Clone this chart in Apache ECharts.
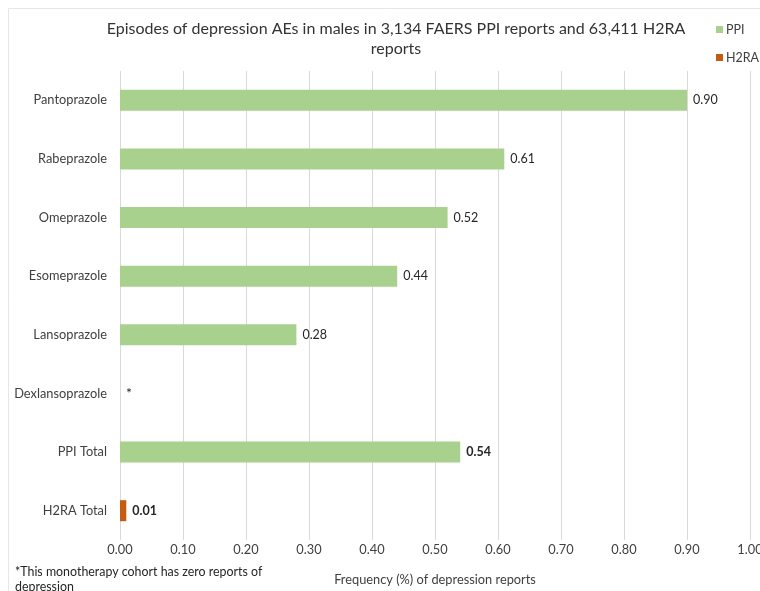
<!DOCTYPE html>
<html>
<head>
<meta charset="utf-8">
<script src="https://cdn.jsdelivr.net/npm/echarts@6/dist/echarts.min.js"></script>
<style>
  html, body { margin: 0; padding: 0; background: #fff; }
  #chart { width: 760px; height: 591px; }
</style>
</head>
<body>
<div id="chart"></div>
<script>
// Drug categories, top to bottom
const categories = ['Pantoprazole', 'Rabeprazole', 'Omeprazole', 'Esomeprazole', 'Lansoprazole', 'Dexlansoprazole', 'PPI Total', 'H2RA Total'];
// Frequency (%) of depression reports; Dexlansoprazole has zero reports
const ppiValues = [0.90, 0.61, 0.52, 0.44, 0.28, 0, 0.54, null];
const h2raValues = [null, null, null, null, null, null, null, 0.01];
// X-axis tick labels
const xTicks = ['0.00', '0.10', '0.20', '0.30', '0.40', '0.50', '0.60', '0.70', '0.80', '0.90', '1.00'];

const FONT = 'Lato, "Open Sans", sans-serif';
const TEXT = '#404040';

const chart = echarts.init(document.getElementById('chart'), null, { renderer: 'canvas' });

const ppiData = ppiValues.map((v, i) => {
  if (v === null) return null;
  const item = { value: v };
  if (categories[i] === 'Dexlansoprazole') {
    item.label = { formatter: '*', fontSize: 14 };
  }
  if (categories[i] === 'PPI Total') {
    item.label = { fontWeight: 'bold' };
  }
  return item;
});
const h2raData = h2raValues.map(v => v === null ? null : { value: v, label: { fontWeight: 'bold' } });

chart.setOption({
  animation: false,
  textStyle: { fontFamily: FONT },
  title: {
    text: 'Episodes of depression AEs in males in 3,134 FAERS PPI reports and 63,411 H2RA\nreports',
    left: 391,
    textAlign: 'center',
    top: 14,
    textStyle: { fontFamily: FONT, fontSize: 16, fontWeight: 'normal', color: '#333', lineHeight: 20 }
  },
  legend: {
    orient: 'vertical',
    left: 711,
    top: 18,
    itemWidth: 7,
    itemHeight: 7,
    itemGap: 15,
    icon: 'rect',
    textStyle: { fontFamily: FONT, fontSize: 12.5, color: TEXT, padding: [0, 0, 0, -2] },
    data: ['PPI', 'H2RA']
  },
  grid: { left: 120, top: 71, width: 630, height: 469, containLabel: false, outerBoundsMode: 'none' },
  xAxis: {
    type: 'value',
    min: 0,
    max: 1,
    interval: 0.1,
    name: 'Frequency (%) of depression reports',
    nameLocation: 'middle',
    nameGap: 33,
    nameTextStyle: { fontFamily: FONT, fontSize: 12.8, color: TEXT },
    axisLine: { show: false },
    axisTick: { show: false },
    splitLine: { show: true, lineStyle: { color: '#d9d9d9', width: 1 } },
    axisLabel: {
      fontFamily: FONT, fontSize: 12.8, color: TEXT, margin: 3,
      formatter: v => xTicks[Math.round(v * 10)]
    }
  },
  yAxis: {
    type: 'category',
    inverse: true,
    data: categories,
    axisLine: { show: false },
    axisTick: { show: false },
    axisLabel: { fontFamily: FONT, fontSize: 12.8, color: TEXT, margin: 13 }
  },
  series: [
    {
      name: 'PPI',
      type: 'bar',
      barWidth: 21,
      barGap: '-100%',
      itemStyle: { color: '#A9D18E' },
      label: {
        show: true, position: 'right', distance: 6,
        fontFamily: FONT, fontSize: 12.5, color: '#262626',
        formatter: p => p.value.toFixed(2)
      },
      data: ppiData
    },
    {
      name: 'H2RA',
      type: 'bar',
      barWidth: 21,
      itemStyle: { color: '#C55A11' },
      label: {
        show: true, position: 'right', distance: 6,
        fontFamily: FONT, fontSize: 12.5, color: '#262626',
        formatter: p => p.value.toFixed(2)
      },
      data: h2raData
    }
  ],
  graphic: [
    {
      type: 'rect',
      shape: { x: 8.5, y: 8.5, width: 760, height: 600 },
      style: { fill: 'none', stroke: '#e6e6e6', lineWidth: 1 },
      silent: true
    },
    {
      type: 'text',
      left: 15,
      top: 564,
      style: {
        text: '*This monotherapy cohort has zero reports of\ndepression',
        fontFamily: FONT, fontSize: 12.4, fill: '#262626', lineHeight: 15
      }
    }
  ]
});
</script>
</body>
</html>
